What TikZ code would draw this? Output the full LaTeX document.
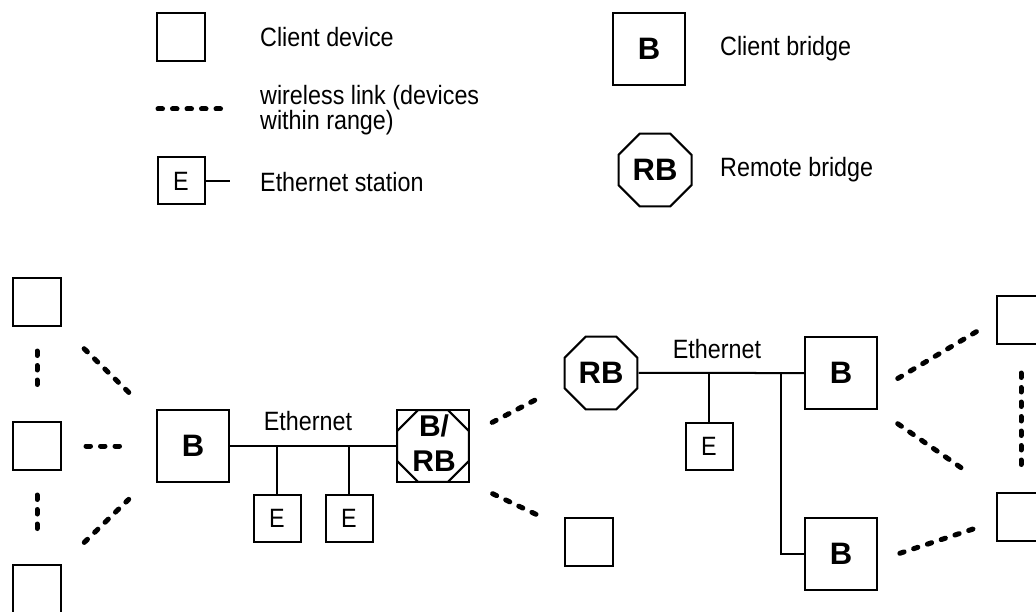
\documentclass[tikz,border=0pt]{standalone}
\usepackage{fontspec}
\setmainfont{Liberation Sans}[FakeStretch=0.88]
\newfontfamily\bsans{Liberation Sans}
\usetikzlibrary{shapes.geometric}

\begin{document}
\begin{tikzpicture}[x=1pt, y=-1pt,
	every node/.style={font=\fontsize{26.5}{23}\selectfont},
	dev/.style={draw, line width=2pt, minimum size=48pt, inner sep=0pt},
	estation/.style={draw, line width=2pt, minimum size=47pt, inner sep=0pt},
	cbridge/.style={draw, line width=2pt, minimum size=72pt, inner sep=0pt, font=\bsans\fontsize{31}{35}\selectfont\bfseries},
	rbridge/.style={draw, line width=2pt, regular polygon, regular polygon sides=8, minimum size=79pt, inner sep=0pt, font=\bsans\fontsize{31}{35}\selectfont\bfseries},
	lbl/.style={anchor=west, inner sep=0pt, align=left},
	wire/.style={line width=2pt},
	wlink/.style={line width=5pt, line cap=round, dash pattern=on 4.5pt off 10pt}]
	\useasboundingbox (0,0) rectangle (1036,612);

	%% legend
	\node[dev] (lgdev) at (181,37) {};
	\node[lbl] (lgdevtxt) at (260,37) {Client device};
	\coordinate (lgw1) at (158,109);
	\coordinate (lgw2) at (229,109);
	\draw[wlink] (lgw1) -- (lgw2);
	\node[lbl] (lgwtxt) at (260,110) {wireless link (devices\\within range)};
	\node[estation] (lge) at (181,181) {E};
	\coordinate (lgeend) at (230,181);
	\draw[wire] (lge) -- (lgeend);
	\node[lbl] (lgetxt) at (260,182) {Ethernet station};
	\node[cbridge] (lgb) at (649,49) {B};
	\node[lbl] (lgbtxt) at (720,49) {Client bridge};
	\node[rbridge] (lgrb) at (655,170) {RB};
	\node[lbl] (lgrbtxt) at (720,170) {Remote bridge};

	%% left group
	\node[dev] (d1) at (37,302) {};
	\node[dev] (d2) at (37,446) {};
	\node[dev] (d3) at (37,589) {};
	\node[cbridge] (bl) at (193,446) {B};
	\draw[wlink, shorten <=24pt, shorten >=28pt] (d1) -- (d2);
	\draw[wlink, shorten <=24pt, shorten >=28pt] (d2) -- (d3);
	\draw[wlink, shorten <=31pt, shorten >=38pt] (d1.south east) -- (bl.144);
	\draw[wlink, shorten <=24pt, shorten >=28pt] (d2) -- (bl);
	\draw[wlink, shorten <=31pt, shorten >=38pt] (d3.north east) -- (bl.216);

	%% ethernet 1
	\node[cbridge] (brb) at (433,446) {};
	\node[draw, line width=2pt, regular polygon, regular polygon sides=8, minimum size=77.9pt, inner sep=0pt] (brboct) at (brb) {};
	\node[font=\bsans\fontsize{30}{35}\selectfont\bfseries, align=center, inner sep=0pt] (brbtxt) at (434,443) {B/\\RB};
	\draw[wire] (bl) -- (brb);
	\node (eth1) at (308,421) {Ethernet};
	\node[estation] (e1) at (277,518) {E};
	\node[estation] (e2) at (349,518) {E};
	\draw[wire] (e1) -- (e1 |- bl);
	\draw[wire] (e2) -- (e2 |- bl);

	%% remote side
	\node[rbridge] (rb) at (601,373) {RB};
	\node[dev] (d4) at (589,542) {};
	\draw[wlink, shorten <=25pt, shorten >=23pt] (brb.18) -- (rb.198);
	\draw[wlink, shorten <=25pt, shorten >=23pt] (brb.south east) -- (d4.150);

	%% ethernet 2
	\node[cbridge] (br1) at (841,373) {B};
	\node[cbridge] (br2) at (841,554) {B};
	\draw[wire] (rb) -- (br1);
	\node (eth2) at (717,349) {Ethernet};
	\node[estation] (e3) at (709,446) {E};
	\draw[wire] (e3) -- (e3 |- rb);
	\coordinate (tap) at (781,373);
	\draw[wire] (tap) |- (br2);

	%% right group
	\node[dev] (d5) at (1021,320) {};
	\node[dev] (d6) at (1021,517) {};
	\draw[wlink, shorten <=23pt, shorten >=22pt] (br1.335) -- (d5.west);
	\draw[wlink, shorten <=24pt, shorten >=36pt] (br1.south east) -- (d6.north west);
	\draw[wlink, shorten <=23pt, shorten >=22pt] (br2.350) -- (d6.190);
	\draw[wlink, shorten <=28pt, shorten >=25pt] (d5) -- (d6);
\end{tikzpicture}
\end{document}
